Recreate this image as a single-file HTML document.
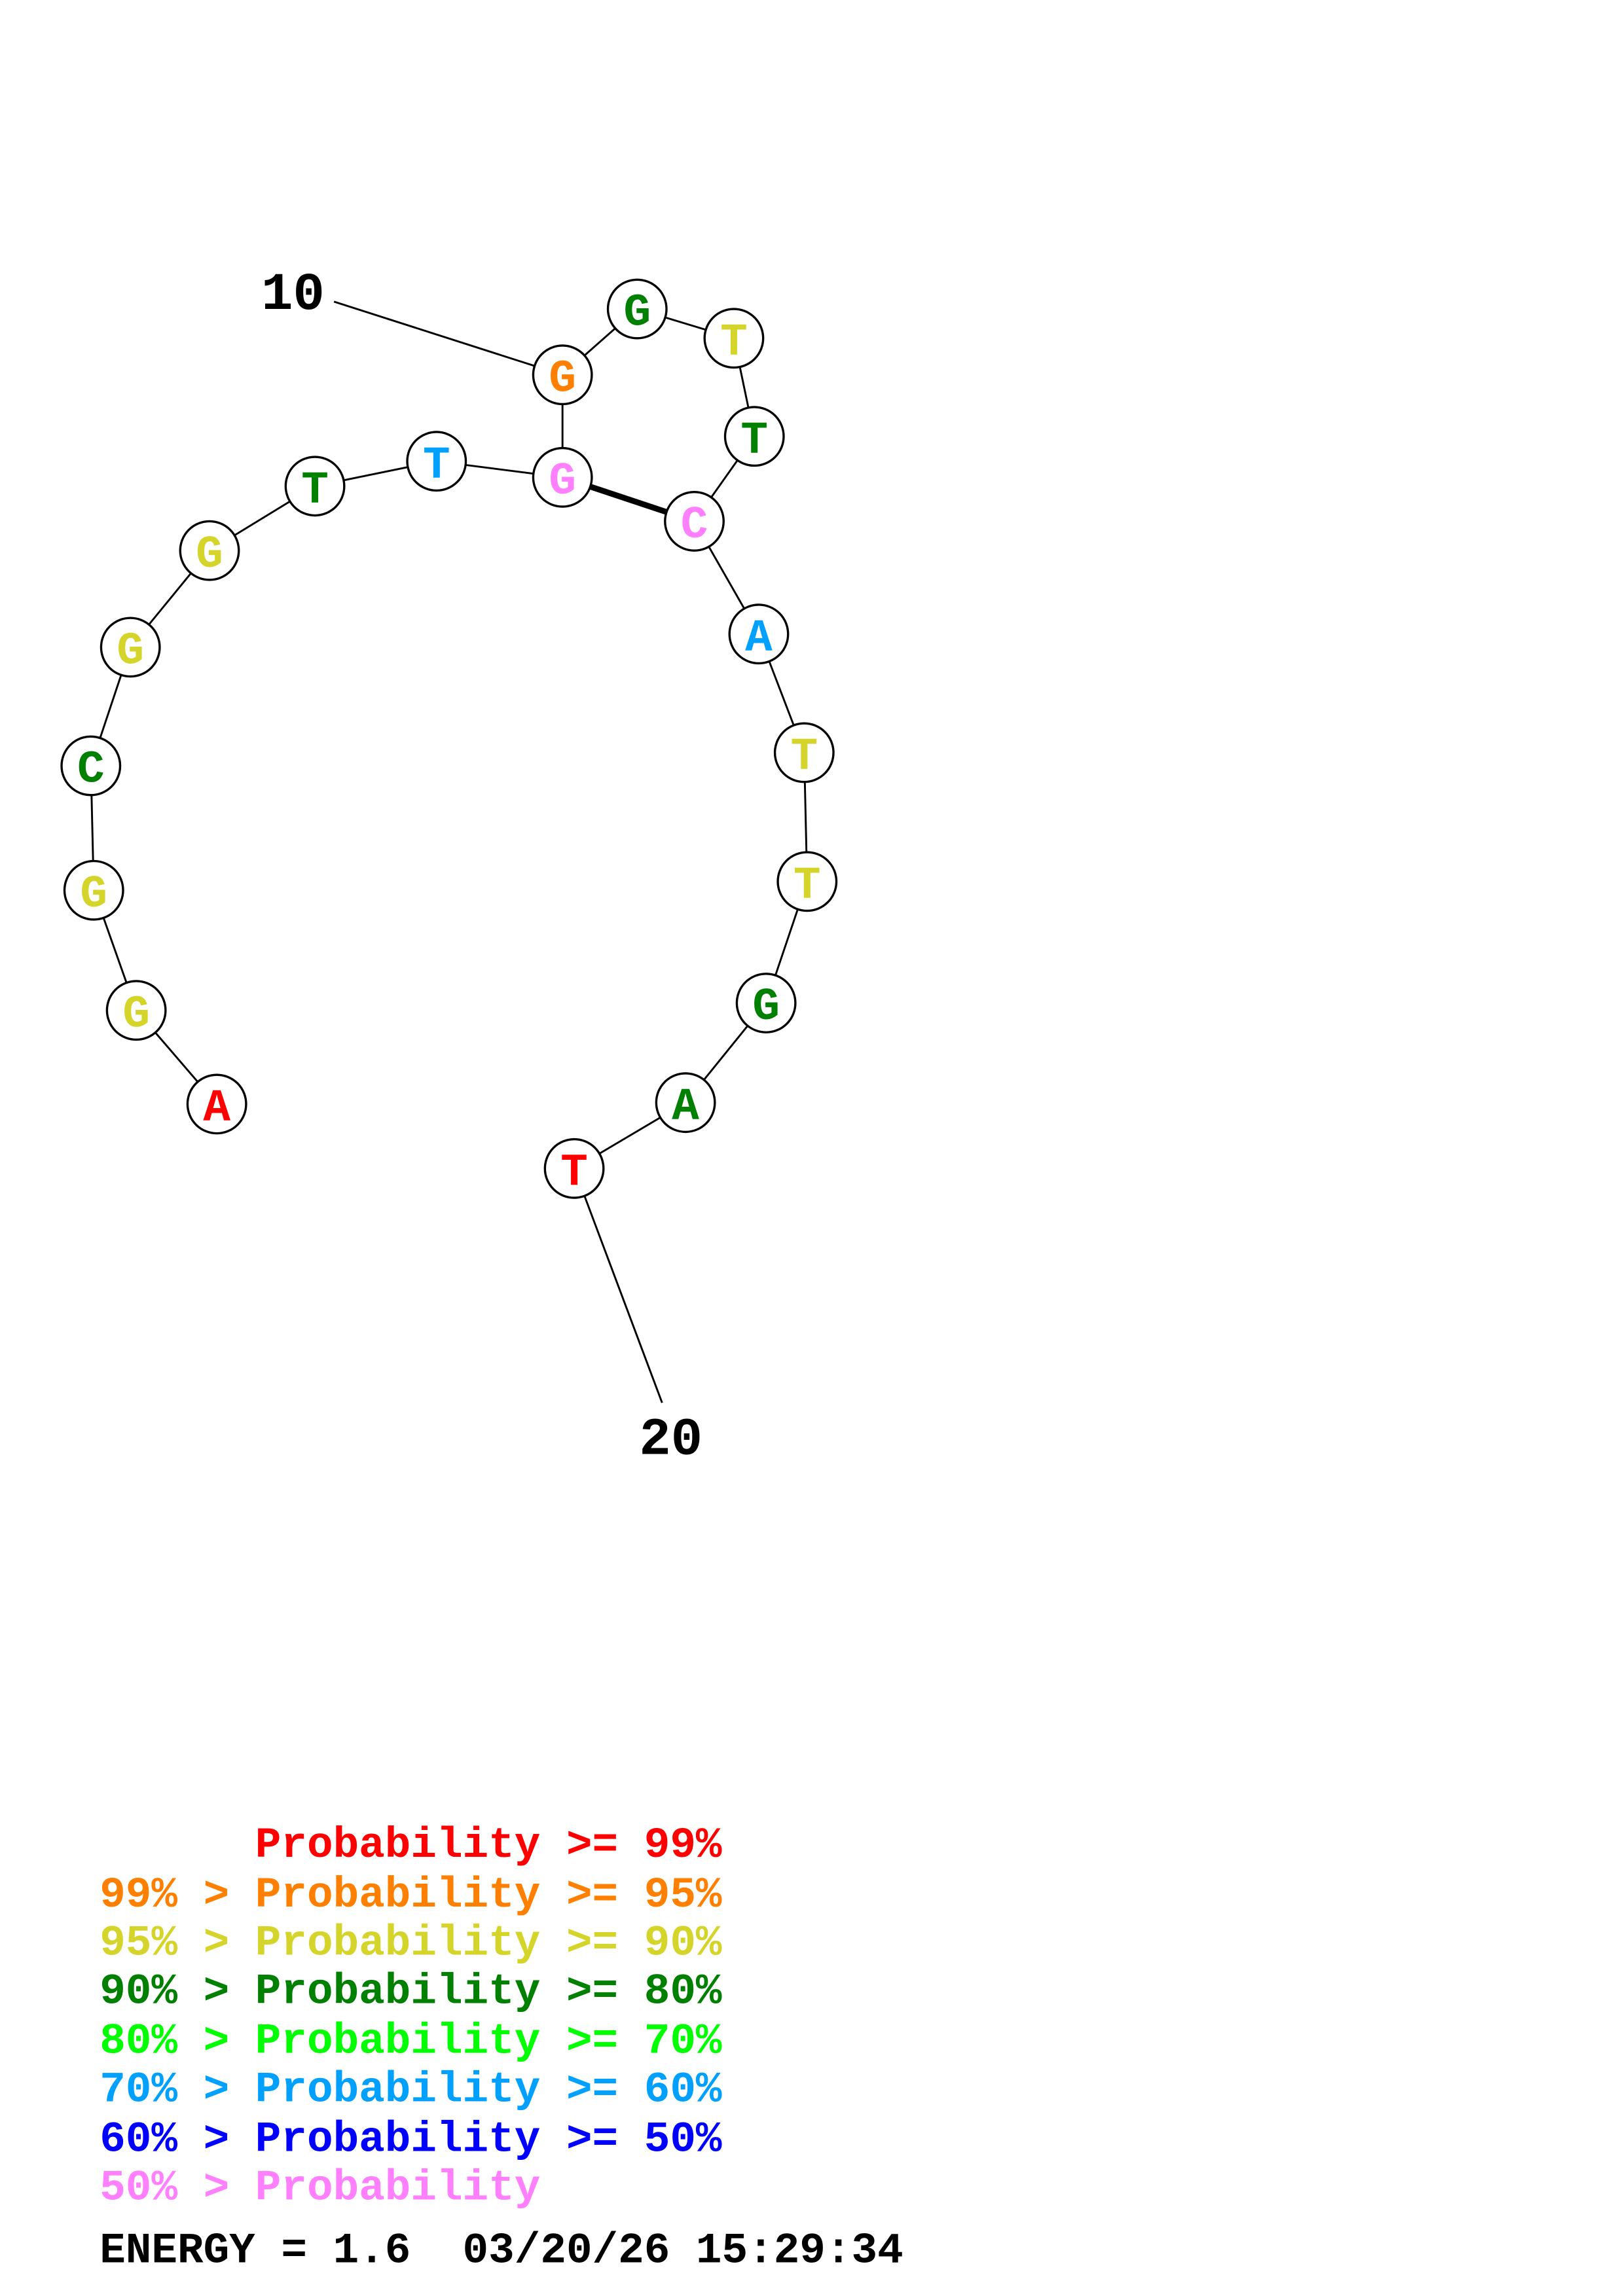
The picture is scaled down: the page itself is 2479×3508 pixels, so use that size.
<!DOCTYPE html>
<html><head><meta charset="utf-8"><style>
html,body{margin:0;padding:0;background:#fff;}
svg{display:block;}
text{font-family:"Liberation Mono","Courier New",monospace;font-weight:bold;}
</style></head><body>
<svg width="2479" height="3508" viewBox="0 0 1108 1568" xmlns="http://www.w3.org/2000/svg">
<rect width="1108" height="1568" fill="#fff"/>
<g stroke="#000" stroke-width="1.3" fill="none">
<polyline points="148,754 93,690 64,608 62,523 89,442 143,376 215,332 298,315 384,326 384,256 435,211 501,231 515,298 474,356 518,433 549,514 551,602 523,685 468,753 392,798 452,958"/>
<line x1="384" y1="256" x2="228" y2="206"/>
<line x1="384" y1="326" x2="474" y2="356" stroke-width="4"/>
</g>
<g stroke="#000" stroke-width="1.5" fill="#fff">
<circle cx="148" cy="754" r="20"/><circle cx="93" cy="690" r="20"/><circle cx="64" cy="608" r="20"/><circle cx="62" cy="523" r="20"/><circle cx="89" cy="442" r="20"/><circle cx="143" cy="376" r="20"/><circle cx="215" cy="332" r="20"/><circle cx="298" cy="315" r="20"/><circle cx="384" cy="326" r="20"/><circle cx="384" cy="256" r="20"/><circle cx="435" cy="211" r="20"/><circle cx="501" cy="231" r="20"/><circle cx="515" cy="298" r="20"/><circle cx="474" cy="356" r="20"/><circle cx="518" cy="433" r="20"/><circle cx="549" cy="514" r="20"/><circle cx="551" cy="602" r="20"/><circle cx="523" cy="685" r="20"/><circle cx="468" cy="753" r="20"/><circle cx="392" cy="798" r="20"/>
</g>
<g font-size="31" text-anchor="middle">
<text x="148" y="765" fill="#ff0000">A</text>
<text x="93" y="701" fill="#d4d42a">G</text>
<text x="64" y="619" fill="#d4d42a">G</text>
<text x="62" y="534" fill="#008000">C</text>
<text x="89" y="453" fill="#d4d42a">G</text>
<text x="143" y="387" fill="#d4d42a">G</text>
<text x="215" y="343" fill="#008000">T</text>
<text x="298" y="326" fill="#00a0ff">T</text>
<text x="384" y="337" fill="#ff80ff">G</text>
<text x="384" y="267" fill="#ff8000">G</text>
<text x="435" y="222" fill="#008000">G</text>
<text x="501" y="242" fill="#d4d42a">T</text>
<text x="515" y="309" fill="#008000">T</text>
<text x="474" y="367" fill="#ff80ff">C</text>
<text x="518" y="444" fill="#00a0ff">A</text>
<text x="549" y="525" fill="#d4d42a">T</text>
<text x="551" y="613" fill="#d4d42a">T</text>
<text x="523" y="696" fill="#008000">G</text>
<text x="468" y="764" fill="#008000">A</text>
<text x="392" y="809" fill="#ff0000">T</text>
</g>
<text x="200" y="211" font-size="36" text-anchor="middle" fill="#000">10</text>
<text x="458" y="993" font-size="36" text-anchor="middle" fill="#000">20</text>
<g font-size="29.5">
<text x="68" y="1268" fill="#ff0000" xml:space="preserve">      Probability &gt;= 99%</text>
<text x="68" y="1302" fill="#ff8000">99% &gt; Probability &gt;= 95%</text>
<text x="68" y="1335" fill="#d4d42a">95% &gt; Probability &gt;= 90%</text>
<text x="68" y="1368" fill="#008000">90% &gt; Probability &gt;= 80%</text>
<text x="68" y="1402" fill="#00ff00">80% &gt; Probability &gt;= 70%</text>
<text x="68" y="1435" fill="#00a0ff">70% &gt; Probability &gt;= 60%</text>
<text x="68" y="1469" fill="#0000ff">60% &gt; Probability &gt;= 50%</text>
<text x="68" y="1502" fill="#ff80ff">50% &gt; Probability</text>
<text x="68" y="1545" fill="#000" xml:space="preserve">ENERGY = 1.6  03/20/26 15:29:34</text>
</g>
</svg>
</body></html>
